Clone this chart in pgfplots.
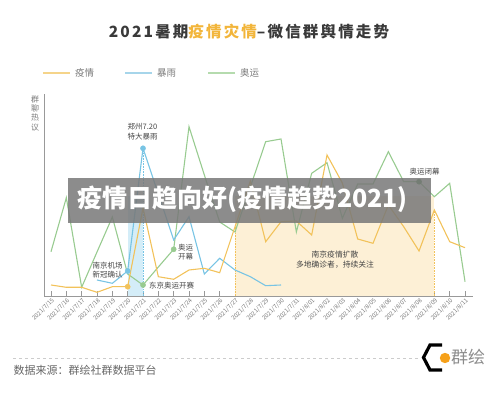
\documentclass[border=0pt]{standalone}
\usepackage{fontspec}
\setmainfont{Noto Sans CJK SC}
\usepackage{pgfplots}
\pgfplotsset{compat=1.18}
\definecolor{cY}{HTML}{F2C25A}
\definecolor{cB}{HTML}{78C4E4}
\definecolor{cG}{HTML}{98CB90}
\definecolor{cGd}{HTML}{5F9A60}
\definecolor{lY}{HTML}{F5D48A}
\definecolor{lB}{HTML}{A6D5EA}
\definecolor{lG}{HTML}{B5DBAE}
\definecolor{bandY}{HTML}{FDF0D6}
\definecolor{bandB}{HTML}{D4EDF8}
\definecolor{axisgray}{HTML}{999999}
\definecolor{labelgray}{HTML}{7A7A7A}
\definecolor{titlegray}{HTML}{3A3A3A}
\definecolor{titleY}{HTML}{F2B53A}
\definecolor{anngray}{HTML}{454545}
\definecolor{bannergray}{RGB}{120,120,120}
\definecolor{logoorange}{HTML}{F6A11A}
\begin{document}
\begin{tikzpicture}[x=1pt,y=1pt]
\useasboundingbox (0,0) rectangle (500,401);
% title
\node[font=\bfseries\fontsize{15.5}{17}\selectfont\addfontfeatures{LetterSpace=14}, text=titlegray] at (249,369) {2021暑期{\color{titleY}疫情灾情}–微信群舆情走势};
% legend
\draw[lY, line width=1.2pt] (43,328) -- (70,328);
\node[anchor=west, font=\fontsize{9.5}{10}\selectfont, text=labelgray, inner sep=0pt] at (75,328) {疫情};
\draw[lB, line width=1.2pt] (125,328) -- (152,328);
\node[anchor=west, font=\fontsize{9.5}{10}\selectfont, text=labelgray, inner sep=0pt] at (157,328) {暴雨};
\draw[lG, line width=1.2pt] (208,328) -- (235,328);
\node[anchor=west, font=\fontsize{9.5}{10}\selectfont, text=labelgray, inner sep=0pt] at (240,328) {奥运};
% y label
\node[font=\fontsize{8}{9.2}\selectfont, text=labelgray, align=center, inner sep=0pt] at (35,287.7) {群\\聊\\热\\议};
\begin{axis}[at={(44pt,105pt)}, anchor=south west, scale only axis,
  width=429pt, height=202pt,
  xmin=-0.4565, xmax=27.52, ymin=0, ymax=202,
  axis x line*=bottom, axis y line*=left,
  axis line style={draw=axisgray, line width=0.8pt, -},
  xtick={0,...,27},
  xticklabels={2021/7/15,2021/7/16,2021/7/17,2021/7/18,2021/7/19,2021/7/20,2021/7/21,2021/7/22,2021/7/23,2021/7/24,2021/7/25,2021/7/26,2021/7/27,2021/7/28,2021/7/29,2021/7/30,2021/7/31,2021/8/01,2021/8/02,2021/8/03,2021/8/04,2021/8/05,2021/8/06,2021/8/07,2021/8/08,2021/8/09,2021/8/10,2021/8/11},
  ytick=\empty,
  tick align=inside, major tick length=4.5pt,
  tick style={draw=axisgray, line width=0.6pt},
  xticklabel style={rotate=45, anchor=north east, font=\fontsize{6}{7}\selectfont, text=labelgray, inner sep=1pt},
  clip=false]
% bands
\addplot[fill=bandB, draw=none] coordinates {(5,0) (5,100) (6,100) (6,0)} -- cycle;
\addplot[fill=bandY, draw=none] coordinates {(12,0) (12,100) (25,100) (25,0)} -- cycle;
\addplot[cB, densely dotted, line width=0.6pt] coordinates {(6,0) (6,147.7)};
\addplot[cY, densely dotted, line width=0.6pt] coordinates {(12,0) (12,69.3)};
\addplot[cY, densely dotted, line width=0.6pt] coordinates {(25,0) (25,86)};
% green: Olympics
\addplot[cG, line width=1.1pt] coordinates {
(0,44.3) (1,98.3) (2,8.7) (3,44) (4,79) (5,22) (6,11) (7,29) (8,46.7) (9,169.3)
(10,121) (11,74) (12,64) (13,109) (14,154.3) (15,157) (16,64) (17,122.7) (18,133.3) (19,77.7)
(20,112) (21,112) (22,144.3) (23,114.3) (24,114.3) (25,99.3) (26,112.7) (27,14.3)};
% blue: rainstorm
\addplot[cB, line width=1.1pt] coordinates {
(3,16) (4,12.7) (5,25) (6,147.7) (7,102) (8,56) (9,79.3) (10,22) (11,37.7) (12,26) (13,19.3) (14,10.3) (15,11)};
% yellow: epidemic
\addplot[cY, line width=1.1pt] coordinates {
(0,11) (1,8.7) (2,8.7) (3,3.7) (4,9.3) (5,9.3) (6,88) (7,19.3) (8,16.7) (9,26)
(10,27.7) (11,23.3) (12,69.3) (13,115) (14,54.3) (15,74.3) (16,75) (17,61) (18,141) (19,113)
(20,57) (21,52.7) (22,91) (23,69.3) (24,45) (25,86) (26,54.3) (27,48.3)};
% markers
\addplot[only marks, mark=*, mark size=2.6pt, cB] coordinates {(5,25) (6,147.7)};
\addplot[only marks, mark=*, mark size=2.6pt, cY] coordinates {(5,9.3)};
\addplot[only marks, mark=*, mark size=2.6pt, cG] coordinates {(6,11) (8,46.7)};
\addplot[only marks, mark=*, mark size=2.6pt, cGd] coordinates {(24,114.3)};
\end{axis}
% annotations
\node[anchor=west, align=left, font=\fontsize{7.5}{9.5}\selectfont, text=anngray, inner sep=0pt] at (127.5,269.3) {郑州7.20\\特大暴雨};
\node[anchor=west, align=left, font=\fontsize{7.5}{9.5}\selectfont, text=anngray, inner sep=0pt] at (92.3,131) {南京机场\\新冠确认};
\node[anchor=west, align=left, font=\fontsize{7.5}{9.5}\selectfont, text=anngray, inner sep=0pt] at (178,149) {奥运\\开幕};
\node[anchor=west, font=\fontsize{7.5}{9.5}\selectfont, text=anngray, inner sep=0pt] at (149,115) {东京奥运开赛};
\node[font=\fontsize{7.5}{9.5}\selectfont, text=anngray, inner sep=0pt] at (424.7,229.3) {奥运闭幕};
\node[align=center, font=\fontsize{7.8}{9.5}\selectfont, text=anngray, inner sep=0pt] at (335,141.3) {南京疫情扩散\\多地确诊者，持续关注};
% banner
\fill[bannergray, opacity=0.85] (68.3,178.3) rectangle (431,222.7);
\node[text=white, font=\bfseries\fontsize{25}{27}\selectfont, inner sep=0pt] at (242.5,201.5) {疫情日趋向好(疫情趋势2021)};
% footer
\draw[black!20, dashed, line width=0.5pt] (13,42.7) -- (418,42.7);
\node[anchor=west, font=\fontsize{11}{12}\selectfont, text=black!60, inner sep=0pt] at (13.3,30.3) {数据来源：群绘社群数据平台};
\draw[black, line width=3.2pt, line join=miter] (442,56) -- (430,56) -- (423.5,43.5) -- (430,31) -- (442,31);
\fill[logoorange] (445,43) circle (5.2);
\node[anchor=west, font=\fontsize{17}{18}\selectfont, text=black!45, inner sep=0pt] at (451,44.3) {群绘};
\end{tikzpicture}
\end{document}
